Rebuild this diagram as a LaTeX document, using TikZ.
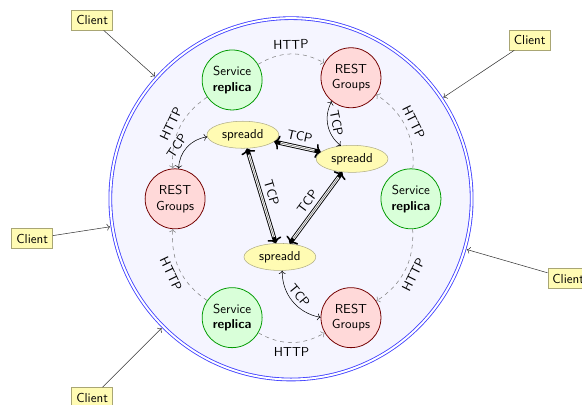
\documentclass[tikz,border=0pt]{standalone}
\usepackage{tikz}
\usetikzlibrary{arrows.meta,positioning,shapes.geometric}

\begin{document}
\begin{tikzpicture}[
    font=\sffamily,
    cluster/.style={circle, draw=blue!75, line width=0.65pt, double, double distance=1.5pt, fill=blue!4, minimum size=9.76cm},
    service/.style={circle, draw=green!60!black, fill=green!15, semithick, minimum size=1.62cm, align=center, inner sep=0pt},
    rest/.style={circle, draw=red!45!black, fill=red!15, semithick, minimum size=1.62cm, align=center, inner sep=0pt},
    daemon/.style={ellipse, draw=yellow!40!black!60, fill=yellow!30, minimum width=1.94cm, minimum height=0.73cm, inner sep=1pt},
    client/.style={rectangle, draw=yellow!45!black!70, fill=yellow!30, semithick, minimum width=1.1cm, minimum height=0.54cm, inner sep=2pt},
    http/.style={->, dashed, draw=gray, thin},
    tcp/.style={<->, thin},
    tcplink/.style={{To[line width=1.2pt, length=4pt, width=11pt]}-{To[line width=1.2pt, length=4pt, width=11pt]},
        line width=3.2pt,
        postaction={draw, -, white, line width=1.8pt, shorten >=5pt, shorten <=5pt},
        postaction={draw, -, gray, line width=0.5pt, shorten >=5pt, shorten <=5pt}},
    lbl/.style={sloped, text=black, inner sep=3pt},
    far/.style={inner sep=3.5pt}
]

\clip (-7.86,-5.56) rectangle (7.86,5.37);

% Cluster
\node[cluster] (ring) at (0,0) {};

% Clients
\node[client] (cl1) at (-5.37,4.83) {Client};
\node[client] (cl2) at (6.45,4.29) {Client};
\node[client] (cl3) at (-6.99,-1.08) {Client};
\node[client] (cl4) at (-5.37,-5.37) {Client};
\node[client] (cl5) at (7.49,-2.16) {Client};

% Service replicas and REST groups
\node[service] (svc1) at (-1.59,3.21) {Service\\\textbf{replica}};
\node[rest] (rest1) at (1.62,3.27) {REST\\Groups};
\node[service] (svc2) at (3.24,0) {Service\\\textbf{replica}};
\node[rest] (rest2) at (1.62,-3.21) {REST\\Groups};
\node[service] (svc3) at (-1.59,-3.21) {Service\\\textbf{replica}};
\node[rest] (rest3) at (-3.13,0) {REST\\Groups};

% Spread daemons
\node[daemon] (sp1) at (-1.30,1.73) {spreadd};
\node[daemon] (sp2) at (1.65,1.08) {spreadd};
\node[daemon] (sp3) at (-0.30,-1.57) {spreadd};

% Clients into the cluster
\foreach \c in {cl1,cl2,cl3,cl4,cl5}
    \draw[->, black!80, shorten >=1.5pt] (\c) -- (ring);

% HTTP ring
\draw[http] (svc1) to[bend left=30] node[lbl, far, above] {HTTP} (rest1);
\draw[http] (svc2) to[bend right=30] node[lbl, far, above] {HTTP} (rest1);
\draw[http] (svc2) to[bend left=30] node[lbl, far, below] {HTTP} (rest2);
\draw[http] (svc3) to[bend right=30] node[lbl, far, below] {HTTP} (rest2);
\draw[http] (svc3) to[bend left=30] node[lbl, far, below] {HTTP} (rest3);
\draw[http] (svc1) to[bend right=30] node[lbl, far, above] {HTTP} (rest3);

% TCP to the daemons
\draw[tcp] (rest3) to[bend left=40] node[lbl, pos=0.4, above] {TCP} (sp1);
\draw[tcp] (rest1) to[bend right=40] node[lbl, above] {TCP} (sp2);
\draw[tcp] (sp3) to[bend right=40] node[lbl, above] {TCP} (rest2);

% Daemon links
\draw[tcplink] (sp1) -- node[lbl, above] {TCP} (sp2);
\draw[tcplink] (sp1) -- node[lbl, above] {TCP} (sp3);
\draw[tcplink] (sp3) -- node[lbl, above] {TCP} (sp2);

\end{tikzpicture}
\end{document}
